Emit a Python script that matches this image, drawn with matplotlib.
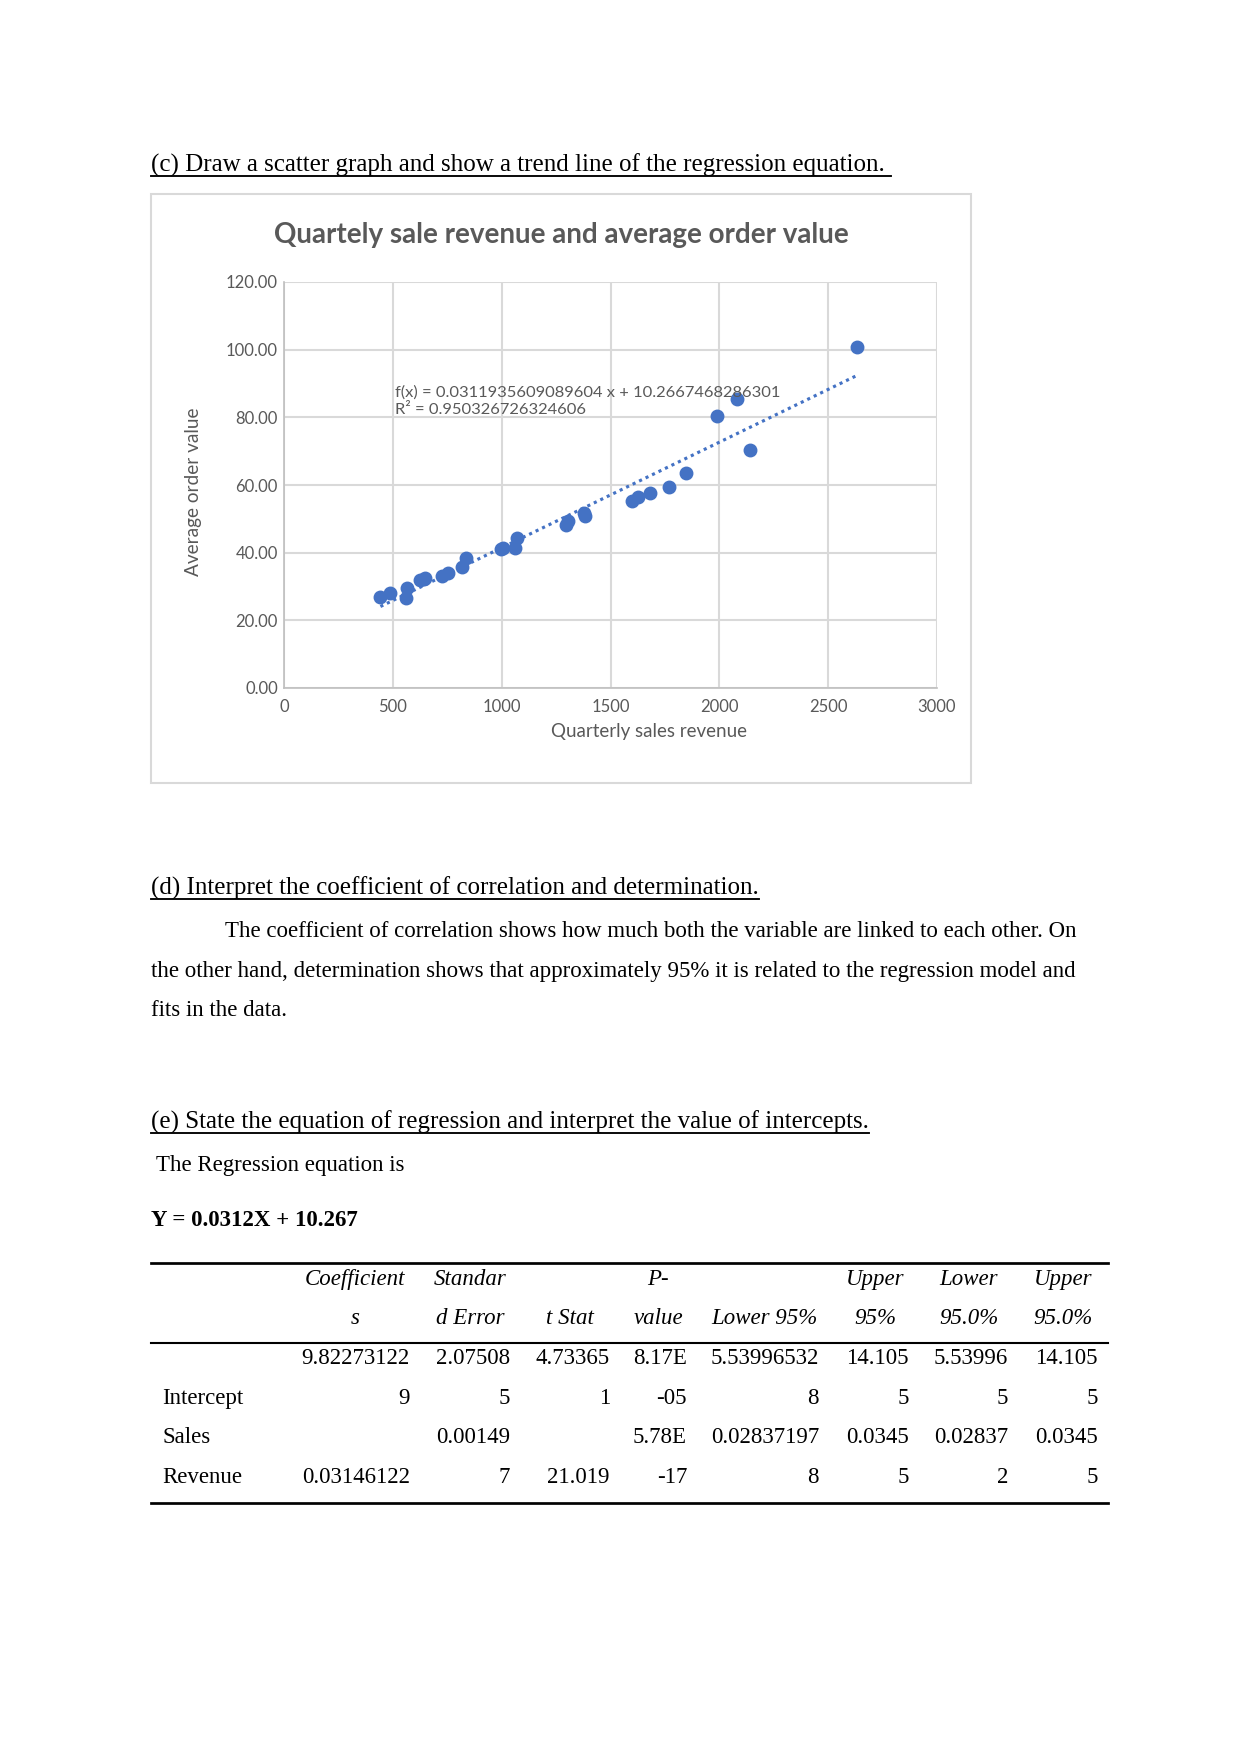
import matplotlib.pyplot as plt
import matplotlib.patches as patches
from matplotlib.lines import Line2D
import numpy as np

# scatter data
revenue = [443, 489, 567, 562, 626, 645, 650, 728, 752, 816, 835, 996, 1008, 1059,
           1069, 1295, 1307, 1376, 1383, 1597, 1627, 1680, 1768, 1846, 1989, 2079,
           2143, 2634]
order_value = [26.8, 28.1, 29.5, 26.7, 31.9, 32.3, 32.5, 33.2, 34.0, 35.9, 38.5, 41.0,
               41.5, 41.5, 44.4, 48.2, 49.5, 51.7, 50.9, 55.4, 56.6, 57.5, 59.5, 63.5,
               80.5, 85.3, 70.4, 100.8]

# trend line coefficients as printed on the chart
slope = 0.0311935609089604
intercept = 10.2667468286301
r2 = 0.950326726324606

x_ticks = [0, 500, 1000, 1500, 2000, 2500, 3000]
y_ticks = [0, 20, 40, 60, 80, 100, 120]

# regression table
header1 = ["Coefficient", "Standar", "", "P-", "", "Upper", "Lower", "Upper"]
header2 = ["s", "d Error", "t Stat", "value", "Lower 95%", "95%", "95.0%", "95.0%"]
row_labels = ["", "Intercept", "Sales", "Revenue"]
rows = [
    ["9.82273122", "2.07508", "4.73365", "8.17E", "5.53996532", "14.105", "5.53996", "14.105"],
    ["9", "5", "1", "-05", "8", "5", "5", "5"],
    ["", "0.00149", "", "5.78E", "0.02837197", "0.0345", "0.02837", "0.0345"],
    ["0.03146122", "7", "21.019", "-17", "8", "5", "2", "5"],
]

W, H = 1241, 1754
fig = plt.figure(figsize=(W / 150, H / 150), dpi=150)
fig.patch.set_facecolor("white")

serif = "Liberation Serif"
gray = "#595959"


def fy(y):
    return 1 - y / H


def fx(x):
    return x / W


def txt(x, y, s, **kw):
    kw.setdefault("family", serif)
    kw.setdefault("fontsize", 11)
    kw.setdefault("va", "baseline")
    return fig.text(fx(x), fy(y), s, **kw)


underlined = []

# chart border
fig.patches.append(patches.Rectangle((fx(151), fy(783)), fx(971) - fx(151), fy(194) - fy(783),
                                     transform=fig.transFigure, fill=False,
                                     edgecolor="#d9d9d9", lw=1.0))

ax = fig.add_axes([fx(284), fy(688), fx(937) - fx(284), fy(282) - fy(688)])
ax.scatter(revenue, order_value, s=32, color="#4472C4", zorder=3)
xs = np.array([min(revenue), max(revenue)])
ax.plot(xs, slope * xs + intercept, color="#4472C4", lw=1.5, ls=(0, (1, 1.3)), zorder=2)
ax.set_xlim(0, 3000)
ax.set_ylim(0, 120)
ax.set_xticks(x_ticks)
ax.set_yticks(y_ticks)
ax.set_yticklabels([f"{v:.2f}" for v in y_ticks])
ax.grid(True, color="#d9d9d9", lw=1.0)
ax.set_axisbelow(True)
for side in ["top", "right"]:
    ax.spines[side].set_visible(False)
for side in ["left", "bottom"]:
    ax.spines[side].set_color("#bfbfbf")
ax.tick_params(length=0, labelsize=8, labelcolor=gray)
ax.tick_params(axis="y", pad=3)
ax.tick_params(axis="x", pad=5.5)
for lab in ax.get_xticklabels() + ax.get_yticklabels():
    lab.set_family("Lato")
ax.text(510, 84.8, f"f(x) = {slope} x + {intercept}\nR\u00b2 = {r2}", family="Lato",
        fontsize=7.9, color=gray, va="center", linespacing=1.3)

fig.text(fx(561), fy(235), "Quartely sale revenue and average order value", family="Lato",
         fontsize=13.3, weight="bold", color=gray, ha="center", va="center")
fig.text(fx(649), fy(732), "Quarterly sales revenue", family="Lato", fontsize=9,
         color=gray, ha="center", va="center")
fig.text(fx(193), fy(492), "Average order value", family="Lato", fontsize=9.1,
         color=gray, ha="center", va="center", rotation=90)

# document text
underlined.append(txt(151, 172, "(c) Draw a scatter graph and show a trend line of the regression equation. ",
                      fontsize=12))
underlined.append(txt(151, 895, "(d) Interpret the coefficient of correlation and determination.",
                      fontsize=12))
txt(225, 937, "The coefficient of correlation shows how much both the variable are linked to each other. On")
txt(151, 977, "the other hand, determination shows that approximately 95% it is related to the regression model and")
txt(151, 1016, "fits in the data.")
underlined.append(txt(151, 1129, "(e) State the equation of regression and interpret the value of intercepts.",
                      fontsize=12))
txt(156, 1171, "The Regression equation is")
txt(151, 1226, "Y = 0.0312X + 10.267", weight="bold")

# table
for y, lw in [(1263, 1.3), (1343, 1.0), (1503, 1.3)]:
    fig.add_artist(Line2D([fx(151), fx(1108)], [fy(y), fy(y)], color="black", lw=lw))
head_cx = [355, 470, 570, 658, 764, 875, 969, 1063]
col_right = [410, 510, 610, 687, 819, 909, 1008, 1098]
for cx, h1, h2 in zip(head_cx, header1, header2):
    txt(cx, 1285, h1, ha="center", style="italic")
    txt(cx, 1324, h2, ha="center", style="italic")
row_y = [1364, 1404, 1443, 1483]
for ry, lab, vals in zip(row_y, row_labels, rows):
    txt(162, ry, lab)
    for rx, v in zip(col_right, vals):
        txt(rx, ry, v, ha="right")

fig.canvas.draw()
r = fig.canvas.get_renderer()
for t in underlined:
    bb = t.get_window_extent(r)
    x0, x1 = bb.x0 / W, bb.x1 / W
    base = t.get_position()[1] - 4 / H
    fig.add_artist(Line2D([x0, x1], [base, base], color="black", lw=0.9))

fig.savefig("out.png", dpi=150)
